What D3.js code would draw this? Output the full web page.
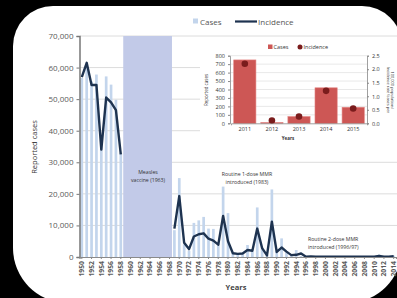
<!DOCTYPE html>
<html>
<head>
<meta charset="utf-8">
<script src="https://cdn.jsdelivr.net/npm/d3@7"></script>
<style>
  html, body { margin: 0; padding: 0; background: #000; }
  svg { display: block; }
  text { font-family: "Open Sans", "Liberation Sans", sans-serif; }
</style>
</head>
<body>
<svg id="chart" width="397" height="298"></svg>
<script>
// main chart: reported cases by year, 1950-2014
var years = ["1950","1951","1952","1953","1954","1955","1956","1957","1958","1959",
  "1960","1961","1962","1963","1964","1965","1966","1967","1968","1969",
  "1970","1971","1972","1973","1974","1975","1976","1977","1978","1979",
  "1980","1981","1982","1983","1984","1985","1986","1987","1988","1989",
  "1990","1991","1992","1993","1994","1995","1996","1997","1998","1999",
  "2000","2001","2002","2003","2004","2005","2006","2007","2008","2009",
  "2010","2011","2012","2013","2014"];

var cases = [56700, 61000, 55600, 57800, 36000, 57200, 54600, 49800, 33000, null,
  null, null, null, null, null, null, null, null, null, 8500,
  25000, 4000, 2000, 10800, 11600, 12700, 9000, 8900, 4500, 22300,
  13900, 1500, 1000, 900, 3800, 1800, 15700, 2600, 600, 21400,
  2000, 5900, 1500, 500, 2200, 300, 150, 100, 80, 60,
  50, 80, 60, 50, 60, 70, 60, 80, 60, 50,
  60, 750, 20, 90, 420];

// incidence plotted on the same axis
var incidence = [57000, 61500, 54500, 54500, 34000, 50500, 49000, 46500, 32500, null,
  null, null, null, null, null, null, null, null, null, 9000,
  19300, 4500, 2500, 6500, 7200, 7500, 5800, 5200, 3900, 13000,
  5000, 1200, 1000, 1100, 2200, 2000, 9000, 2800, 500, 11200,
  1600, 3000, 1700, 600, 700, 1100, 100, 150, 100, 100,
  100, 100, 100, 100, 100, 100, 100, 100, 100, 100,
  100, 300, 100, 100, 250];

var xLabels = years.filter(function (d, i) { return i % 2 === 0; });
var yTicks = [0, 10000, 20000, 30000, 40000, 50000, 60000, 70000];
var vaccineSpan = ["1959", "1968"];

// inset: 2011-2015
var insetYears = ["2011", "2012", "2013", "2014", "2015"];
var insetCases = [750, 10, 80, 420, 190];
var insetIncidence = [2.2, 0.1, 0.25, 1.2, 0.55];
var insetLeftTicks = [0, 100, 200, 300, 400, 500, 600, 700, 800];
var insetRightTicks = [0, 0.5, 1, 1.5, 2, 2.5];

var svg = d3.select("#chart");

// white card with rounded corners
var L = 13, T = 6, R = 402, B = 303;
var card = d3.path();
card.moveTo(L + 40, T);
card.lineTo(R - 40, T);
card.arcTo(R, T, R, T + 40, 40);
card.lineTo(R, B - 55);
card.arcTo(R, B, R - 55, B, 55);
card.lineTo(L + 55, B);
card.arcTo(L, B, L, B - 55, 55);
card.lineTo(L, T + 40);
card.arcTo(L, T, L + 40, T, 40);
card.closePath();
svg.append("path").attr("d", card.toString()).attr("fill", "#fff");

var x = d3.scaleBand().domain(years).range([79.5, 396]).paddingInner(0.45).paddingOuter(0.2);
var y = d3.scaleLinear().domain([0, 70000]).range([257, 36]);

// gridlines
svg.append("g").selectAll("line").data(yTicks.slice(1)).join("line")
  .attr("x1", 80).attr("x2", 397)
  .attr("y1", function (d) { return y(d); }).attr("y2", function (d) { return y(d); })
  .attr("stroke", "#dcdcdc").attr("stroke-width", 1);

// vaccine shaded band
var step = x.step();
svg.append("rect")
  .attr("x", x(vaccineSpan[0]) - step * 0.225)
  .attr("y", y(70000))
  .attr("width", x(vaccineSpan[1]) - x(vaccineSpan[0]) + step)
  .attr("height", y(0) - y(70000))
  .attr("fill", "#c2cae8");

// case bars
svg.append("g").selectAll("rect").data(years.map(function (d, i) { return { year: d, v: cases[i] }; })
  .filter(function (d) { return d.v !== null; })).join("rect")
  .attr("x", function (d) { return x(d.year); })
  .attr("width", x.bandwidth())
  .attr("y", function (d) { return y(d.v); })
  .attr("height", function (d) { return y(0) - y(d.v); })
  .attr("fill", "#c3d5ec");

// incidence line
var line = d3.line()
  .defined(function (d) { return d.v !== null; })
  .x(function (d) { return x(d.year) + x.bandwidth() / 2; })
  .y(function (d) { return y(d.v); });
svg.append("path")
  .datum(years.map(function (d, i) { return { year: d, v: incidence[i] }; }))
  .attr("d", line)
  .attr("fill", "none").attr("stroke", "#1e3350").attr("stroke-width", 2.4)
  .attr("stroke-linejoin", "round");

// y axis
var yAxis = svg.append("g").attr("transform", "translate(79.5,0)")
  .call(d3.axisLeft(y).tickValues(yTicks).tickSize(3).tickFormat(d3.format(",")));
yAxis.select(".domain").attr("stroke", "#777").attr("stroke-width", 1.5);
yAxis.selectAll(".tick line").attr("stroke", "#777");
yAxis.selectAll("text").attr("font-size", 8).attr("fill", "#5a5a5a").attr("x", -6);

// x axis
var xAxis = svg.append("g").attr("transform", "translate(0,257)")
  .call(d3.axisBottom(x).tickValues(xLabels).tickSize(2));
xAxis.select(".domain").attr("stroke", "#8a8a8a").attr("stroke-width", 1.2);
xAxis.selectAll(".tick line").attr("stroke", "#8a8a8a");
xAxis.selectAll("text")
  .attr("font-size", 6.8).attr("font-weight", "bold").attr("fill", "#5a5a5a")
  .attr("transform", "rotate(-90)")
  .attr("text-anchor", "end").attr("dy", "0.35em").attr("x", -4).attr("y", 0);

// axis titles
svg.append("text").attr("transform", "translate(37,147) rotate(-90)")
  .attr("text-anchor", "middle").attr("font-size", 7.5).attr("fill", "#333")
  .text("Reported cases");
svg.append("text").attr("x", 236).attr("y", 290)
  .attr("text-anchor", "middle").attr("font-size", 7.5).attr("font-weight", "bold").attr("fill", "#444")
  .text("Years");

// annotations
function note(cx, cy, lines, anchor) {
  var t = svg.append("text").attr("font-size", 5.2).attr("fill", "#333").attr("text-anchor", anchor);
  lines.forEach(function (s, i) {
    t.append("tspan").attr("x", cx).attr("y", cy + i * 7.5).text(s);
  });
}
note(148, 174, ["Measles", "vaccine (1963)"], "middle");
note(247, 176, ["Routine 1-dose MMR", "introduced (1983)"], "middle");
note(308, 241, ["Routine 2-dose MMR", "introduced (1996/97)"], "start");

// main legend
svg.append("rect").attr("x", 193).attr("y", 18.5).attr("width", 5).attr("height", 5).attr("fill", "#c3d5ec");
svg.append("text").attr("x", 200).attr("y", 24.5).attr("font-size", 8).attr("fill", "#555").text("Cases");
svg.append("line").attr("x1", 235).attr("x2", 257).attr("y1", 21.5).attr("y2", 21.5)
  .attr("stroke", "#1e3350").attr("stroke-width", 2.2);
svg.append("text").attr("x", 258).attr("y", 24.5).attr("font-size", 8).attr("fill", "#555").text("Incidence");

// ---- inset chart ----
var inset = svg.append("g");
inset.append("rect").attr("x", 200).attr("y", 38).attr("width", 197).attr("height", 104).attr("fill", "#fff");

var ix = d3.scaleBand().domain(insetYears).range([231, 367]).paddingInner(0.18).paddingOuter(0.1);
var iy = d3.scaleLinear().domain([0, 800]).range([123.3, 55.7]);
var iy2 = d3.scaleLinear().domain([0, 2.5]).range([123.3, 55.7]);

inset.append("g").selectAll("line").data(insetLeftTicks.slice(1)).join("line")
  .attr("x1", 230).attr("x2", 367)
  .attr("y1", function (d) { return iy(d); }).attr("y2", function (d) { return iy(d); })
  .attr("stroke", "#e2e2e2").attr("stroke-width", 0.8);

inset.append("g").selectAll("rect").data(insetCases).join("rect")
  .attr("x", function (d, i) { return ix(insetYears[i]); })
  .attr("width", ix.bandwidth())
  .attr("y", function (d) { return iy(d); })
  .attr("height", function (d) { return iy(0) - iy(d); })
  .attr("fill", "#cd5755").attr("stroke", "#e38583").attr("stroke-width", 0.6);

inset.append("g").selectAll("circle").data(insetIncidence).join("circle")
  .attr("cx", function (d, i) { return ix(insetYears[i]) + ix.bandwidth() / 2; })
  .attr("cy", function (d) { return iy2(d); })
  .attr("r", 3.3)
  .attr("fill", "#7a1c1c");

var ila = inset.append("g").attr("transform", "translate(230,0)")
  .call(d3.axisLeft(iy).tickValues(insetLeftTicks).tickSize(2));
ila.select(".domain").attr("stroke", "#888").attr("stroke-width", 0.8);
ila.selectAll(".tick line").attr("stroke", "#888");
ila.selectAll("text").attr("font-size", 5.5).attr("fill", "#333");

var ira = inset.append("g").attr("transform", "translate(367,0)")
  .call(d3.axisRight(iy2).tickValues(insetRightTicks).tickSize(2));
ira.select(".domain").attr("stroke", "#888").attr("stroke-width", 0.8);
ira.selectAll(".tick line").attr("stroke", "#888");
ira.selectAll("text").attr("font-size", 5.5).attr("fill", "#333");

var iba = inset.append("g").attr("transform", "translate(0,123.3)")
  .call(d3.axisBottom(ix).tickSize(2));
iba.select(".domain").attr("stroke", "#888").attr("stroke-width", 0.8);
iba.selectAll(".tick line").remove();
iba.selectAll("text").attr("font-size", 5.5).attr("fill", "#333").attr("y", 4);

inset.append("text").attr("x", 288).attr("y", 139.5).attr("text-anchor", "middle")
  .attr("font-size", 4.5).attr("font-weight", "bold").attr("fill", "#333").text("Years");
inset.append("text").attr("transform", "translate(208,90) rotate(-90)").attr("text-anchor", "middle")
  .attr("font-size", 4.5).attr("fill", "#333").text("Reported cases");
var rt = inset.append("text").attr("transform", "translate(386.5,90) rotate(90)").attr("text-anchor", "middle")
  .attr("font-size", 4).attr("fill", "#333");
rt.append("tspan").attr("x", 0).attr("y", 0).text("Incidence rate (cases per");
rt.append("tspan").attr("x", 0).attr("y", -4.4).text("100,000 population)");

// inset legend
inset.append("rect").attr("x", 268).attr("y", 44.5).attr("width", 4.5).attr("height", 4.5).attr("fill", "#cd5755");
inset.append("text").attr("x", 273.5).attr("y", 49).attr("font-size", 5.5).attr("fill", "#333").text("Cases");
inset.append("circle").attr("cx", 300).attr("cy", 47).attr("r", 2.5).attr("fill", "#7a1c1c");
inset.append("text").attr("x", 303.5).attr("y", 49).attr("font-size", 5.5).attr("fill", "#333").text("Incidence");
</script>
</body>
</html>
